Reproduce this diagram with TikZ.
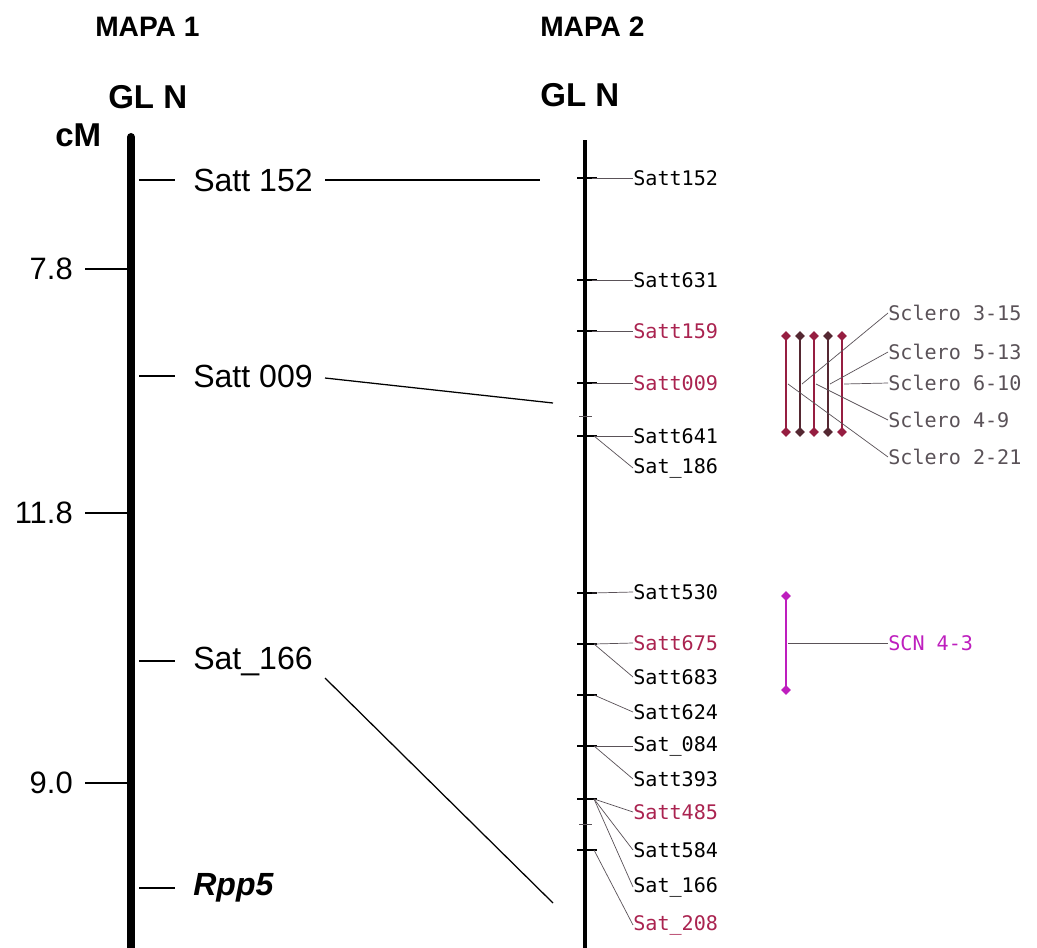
\documentclass[tikz,border=0pt]{standalone}
\usepackage{fontspec}
\setmainfont{Liberation Sans}
\newfontfamily\markfont{DejaVu Sans Mono}
\usetikzlibrary{arrows.meta,positioning,shapes.geometric}
\definecolor{markred}{RGB}{170,35,80}
\definecolor{qtlred}{RGB}{150,30,65}
\definecolor{qtldark}{RGB}{85,40,50}
\definecolor{qtlgray}{RGB}{90,82,88}
\definecolor{scnpink}{RGB}{190,30,190}

\begin{document}
\begin{tikzpicture}[x=0.025cm, y=-0.025cm,
    every node/.style={inner sep=0pt},
    head/.style={font=\fontsize{20}{24}\selectfont\bfseries, anchor=west},
    big/.style={font=\fontsize{23.5}{28}\selectfont\bfseries, anchor=west},
    lbl/.style={font=\fontsize{22.8}{27}\selectfont, anchor=west, inner xsep=0.3cm},
    mk/.style={font=\markfont\fontsize{14.3}{17}\selectfont, anchor=west},
    link/.style={line width=0.9pt},
    thin/.style={draw=qtlgray, line width=0.5pt},
    tick/.style={line width=1pt},
    dia/.style={diamond, minimum size=0.26cm}]
    \useasboundingbox[fill=white] (0,0) rectangle (1037,947);

    % headers
    \node[head] (map1) at (95,27) {MAPA 1};
    \node[head] (map2) at (540,27) {MAPA 2};
    \node[big] (gl1) at (108,97) {GL N};
    \node[big] (gl2) at (540,95) {GL N};
    \node[big] (cm) at (55,135) {cM};

    % map 1
    \draw[line width=5.7pt, line cap=round] (131,137) -- (131,950);
    \foreach \y in {180,376,661,888} \draw[tick] (139,\y) -- (175,\y);
    \foreach \y/\d in {269/7.8,513/11.8,783/9.0} {
        \draw[tick] (85,\y) -- (127,\y);
        \node[font=\fontsize{22}{26}\selectfont, anchor=east] (d\y) at (73,\y) {\d};
    }
    \node[lbl] (s152) at (181,180) {Satt 152};
    \node[lbl] (s009) at (181,376) {Satt 009};
    \node[lbl] (s166) at (181,661) {Sat\_166};
    \node[lbl, font=\fontsize{22.8}{27}\selectfont\bfseries\itshape] (rpp5) at (181,888) {Rpp5};

    % links between the maps
    \coordinate (c152) at (540,180);
    \coordinate (c009) at (553,403);
    \coordinate (c166) at (553,903);
    \draw[link] (s152.east) -- (c152);
    \draw[link] (s009.east) ++(0,2) -- (c009);
    \draw[link] (s166.east) ++(0,17) -- (c166);

    % map 2
    \draw[line width=3.5pt] (585,140) -- (585,950);
    \foreach \y in {178,280,331,383,436,593,644,695,746,799,850} \draw[tick] (577,\y) -- (597,\y);
    \foreach \y in {416,824} \draw[thin] (579,\y) -- (592,\y);
    \coordinate (t152) at (592,178);
    \coordinate (t631) at (592,280);
    \coordinate (t159) at (592,331);
    \coordinate (t009) at (592,383);
    \coordinate (t641) at (594,436);
    \coordinate (t530) at (592,593);
    \coordinate (t675) at (594,644);
    \coordinate (t624) at (594,695);
    \coordinate (t084) at (594,746);
    \coordinate (t485) at (594,799);
    \coordinate (t208) at (594,850);

    \node[mk] (m152) at (633,178) {Satt152};
    \node[mk] (m631) at (633,280) {Satt631};
    \node[mk, markred] (m159) at (633,331) {Satt159};
    \node[mk, markred] (m009) at (633,383) {Satt009};
    \node[mk] (m641) at (633,436) {Satt641};
    \node[mk] (m186) at (633,468) {Sat\_186};
    \node[mk] (m530) at (633,592) {Satt530};
    \node[mk, markred] (m675) at (633,643) {Satt675};
    \node[mk] (m683) at (633,677) {Satt683};
    \node[mk] (m624) at (633,712) {Satt624};
    \node[mk] (m084) at (633,746) {Sat\_084};
    \node[mk] (m393) at (633,779) {Satt393};
    \node[mk, markred] (m485) at (633,812) {Satt485};
    \node[mk] (m584) at (633,850) {Satt584};
    \node[mk] (m166) at (633,887) {Sat\_166};
    \node[mk, markred] (m208) at (633,925) {Sat\_208};

    \foreach \a/\b in {t152/m152,t631/m631,t159/m159,t009/m009,t641/m641,t641/m186,
        t530/m530,t675/m675,t675/m683,t624/m624,t084/m084,t084/m393,
        t485/m485,t485/m584,t485/m166,t208/m208}
        \draw[thin] (\a) -- (\b.west);

    % QTL bars
    \foreach \i/\x/\c in {1/786/qtlred,2/800/qtldark,3/814/qtlred,4/828/qtldark,5/842/qtlred} {
        \draw[\c, line width=1.4pt] (\x,336) node[dia, fill=\c] (top\i) {} -- (\x,432) node[dia, fill=\c] (bot\i) {};
        \coordinate (q\i) at (\x+2,384);
    }
    \node[mk, qtlgray] (sc315) at (888,313) {Sclero 3-15};
    \node[mk, qtlgray] (sc513) at (888,352) {Sclero 5-13};
    \node[mk, qtlgray] (sc610) at (888,383) {Sclero 6-10};
    \node[mk, qtlgray] (sc49) at (888,420) {Sclero 4-9};
    \node[mk, qtlgray] (sc221) at (888,457) {Sclero 2-21};
    \foreach \a/\b in {q2/sc315,q4/sc513,q5/sc610,q3/sc49,q1/sc221}
        \draw[thin] (\a) -- (\b.west);

    \draw[scnpink, line width=1.4pt] (786,596) node[dia, fill=scnpink] (scntop) {} -- (786,690) node[dia, fill=scnpink] (scnbot) {};
    \coordinate (qscn) at (788,643);
    \node[mk, scnpink] (scn) at (888,643) {SCN 4-3};
    \draw[thin] (qscn) -- (scn.west);
\end{tikzpicture}
\end{document}
